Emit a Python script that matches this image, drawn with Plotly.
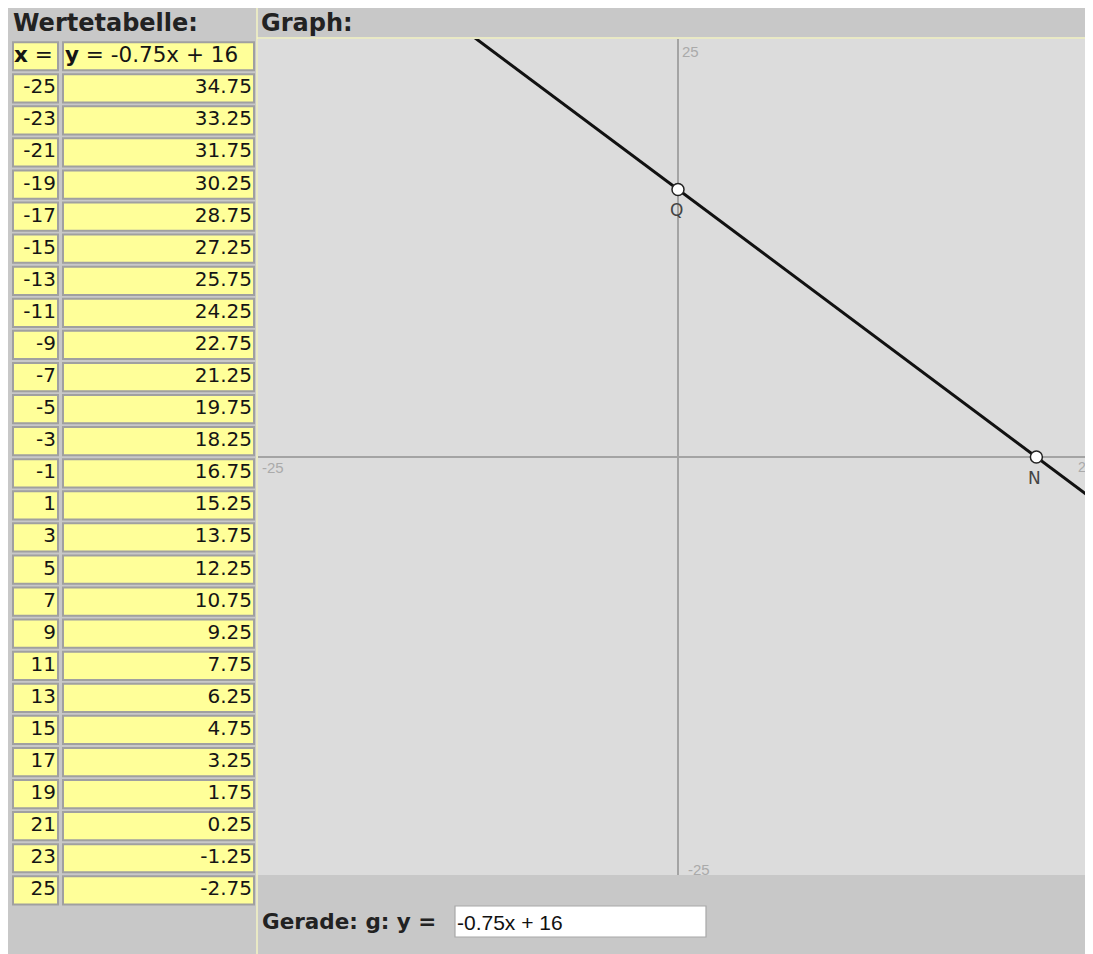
import plotly.graph_objects as go

# ---------------- data ----------------
x_values = [-25, -23, -21, -19, -17, -15, -13, -11, -9, -7, -5, -3, -1,
            1, 3, 5, 7, 9, 11, 13, 15, 17, 19, 21, 23, 25]
y_values = [34.75, 33.25, 31.75, 30.25, 28.75, 27.25, 25.75, 24.25, 22.75,
            21.25, 19.75, 18.25, 16.75, 15.25, 13.75, 12.25, 10.75, 9.25,
            7.75, 6.25, 4.75, 3.25, 1.75, 0.25, -1.25, -2.75]
x_header = "<b>x</b> ="
y_header = "<b>y</b> = -0.75x + 16"
line_x = [-25, 25]
line_y = [34.75, -2.75]
point_names = ["Q", "N"]
point_x = [0, 21.333]
point_y = [16, 0]
axis_min, axis_max = -25, 25
equation_text = "-0.75x + 16"
title_table = "Wertetabelle:"
title_graph = "Graph:"
label_line = "<b>Gerade: g: y =</b>"

# ---------------- page geometry (pixels in the 1093x954 window) ----------------
OFF = 8          # the page body margin places the figure at (8, 8)
W, H = 1093, 954
FW, FH = W - OFF, H - OFF


def fx(p):
    return (p - OFF) / FW


def fy(p):
    return 1 - (p - OFF) / FH


# graph area
GX0, GX1, GY0, GY1 = 258, 1093, 39, 875
PX_PER_UNIT_X = 16.8
x_right = axis_min + (GX1 - GX0) / PX_PER_UNIT_X

# table rows
ROW0_CENTER = 56.25
ROW_PITCH = 32.08
rows_all = list(range(len(x_values) + 1))
rows_data = rows_all[1:]
i_top = (OFF - ROW0_CENTER) / ROW_PITCH
i_bot = (H - ROW0_CENTER) / ROW_PITCH

YELLOW = "#ffff99"
CELL_LINE = "#a0a0a0"
TXT = "#151515"
FONT = "DejaVu Sans"

fig = go.Figure()

# ---- graph ----
fig.add_trace(go.Scatter(x=line_x, y=line_y, mode="lines",
                         line=dict(color="#111111", width=3),
                         xaxis="x", yaxis="y", hoverinfo="skip"))
fig.add_trace(go.Scatter(x=point_x, y=point_y, mode="markers",
                         marker=dict(size=12, color="white",
                                     line=dict(color="#222222", width=1.5)),
                         xaxis="x", yaxis="y", hoverinfo="skip", cliponaxis=False))

# ---- table ----
fig.add_trace(go.Bar(y=rows_all, x=[45] * len(rows_all), base=13, orientation="h",
                     width=0.88, marker=dict(color=YELLOW, line=dict(color=CELL_LINE, width=2)),
                     xaxis="x2", yaxis="y2", hoverinfo="skip"))
fig.add_trace(go.Bar(y=rows_all, x=[191] * len(rows_all), base=63, orientation="h",
                     width=0.88, marker=dict(color=YELLOW, line=dict(color=CELL_LINE, width=2)),
                     xaxis="x2", yaxis="y2", hoverinfo="skip"))
fig.add_trace(go.Scatter(x=[14, 65], y=[0, 0], text=[x_header, y_header], mode="text",
                         textposition="middle right",
                         textfont=dict(family=FONT, size=21.5, color=TXT),
                         xaxis="x2", yaxis="y2", hoverinfo="skip"))
fig.add_trace(go.Scatter(x=[56] * len(x_values), y=rows_data, text=[str(v) for v in x_values],
                         mode="text", textposition="middle left",
                         textfont=dict(family=FONT, size=20, color=TXT),
                         xaxis="x2", yaxis="y2", hoverinfo="skip"))
fig.add_trace(go.Scatter(x=[252] * len(y_values), y=rows_data,
                         text=[f"{v:.2f}" for v in y_values],
                         mode="text", textposition="middle left",
                         textfont=dict(family=FONT, size=20, color=TXT),
                         xaxis="x2", yaxis="y2", hoverinfo="skip"))

shapes = [
    dict(type="rect", xref="paper", yref="paper", x0=0, x1=1, y0=0, y1=1,
         fillcolor="#c8c8c8", line=dict(width=0), layer="below"),
    dict(type="rect", xref="paper", yref="paper", x0=fx(GX0), x1=1, y0=fy(GY1), y1=fy(GY0),
         fillcolor="#dcdcdc", line=dict(width=0), layer="below"),
    dict(type="line", xref="paper", yref="paper", x0=fx(257), x1=fx(257), y0=0, y1=1,
         line=dict(color="#f4f4c4", width=1.5), layer="below"),
    dict(type="line", xref="paper", yref="paper", x0=fx(257), x1=1, y0=fy(38), y1=fy(38),
         line=dict(color="#f4f4c4", width=1.5), layer="below"),
    dict(type="rect", xref="paper", yref="paper", x0=fx(455), x1=fx(706), y0=fy(937), y1=fy(906),
         fillcolor="white", line=dict(color="#a8a8a8", width=1.2), layer="below"),
]

tick_font = dict(family="Liberation Sans", size=15, color="#aaaaaa")
annotations = [
    dict(text=f"<b>{title_table}</b>", x=fx(11), y=fy(23), xanchor="left", yanchor="middle",
         font=dict(family=FONT, size=24, color="#222222")),
    dict(text=f"<b>{title_graph}</b>", x=fx(259), y=fy(23), xanchor="left", yanchor="middle",
         font=dict(family=FONT, size=24, color="#222222")),
    dict(text=label_line, x=fx(260), y=fy(921), xanchor="left", yanchor="middle",
         font=dict(family=FONT, size=21.5, color="#222222")),
    dict(text=equation_text, x=fx(455), y=fy(922), xanchor="left", yanchor="middle",
         font=dict(family="Liberation Sans", size=21, color="#111111")),
    # axis end labels
    dict(text=str(axis_max), x=fx(680), y=fy(52), xanchor="left", yanchor="middle", font=tick_font),
    dict(text=str(axis_min), x=fx(260), y=fy(467), xanchor="left", yanchor="middle", font=tick_font),
    dict(text=str(axis_max), x=fx(1076), y=fy(467), xanchor="left", yanchor="middle",
         font=dict(family="Liberation Sans", size=14, color="#aaaaaa")),
    dict(text=str(axis_min), x=fx(686), y=fy(869), xanchor="left", yanchor="middle", font=tick_font),
]
for name, px_, py_ in zip(point_names, point_x, point_y):
    annotations.append(dict(text=name, x=px_, y=py_, xref="x", yref="y", yshift=-21, xshift=-2,
                            xanchor="center", yanchor="middle",
                            font=dict(family=FONT, size=17, color="#444444")))
for a in annotations:
    a.setdefault("xref", "paper")
    a.setdefault("yref", "paper")
    a["showarrow"] = False

fig.update_layout(
    width=FW, height=FH, margin=dict(l=0, r=0, t=0, b=0, pad=0),
    paper_bgcolor="white", plot_bgcolor="rgba(0,0,0,0)",
    showlegend=False, hovermode=False, barmode="overlay",
    shapes=shapes, annotations=annotations,
    xaxis=dict(domain=[fx(GX0), 1], range=[axis_min, x_right], showgrid=False,
               zeroline=True, zerolinecolor="#a4a4a4", zerolinewidth=1.5,
               showticklabels=False, ticks="", showline=False, fixedrange=True),
    yaxis=dict(domain=[fy(GY1), fy(GY0)], range=[axis_min, axis_max], showgrid=False,
               zeroline=True, zerolinecolor="#a4a4a4", zerolinewidth=1.5,
               showticklabels=False, ticks="", showline=False, fixedrange=True),
    xaxis2=dict(domain=[0, fx(258)], range=[OFF, 258], visible=False, fixedrange=True),
    yaxis2=dict(domain=[0, 1], range=[i_bot, i_top], visible=False, fixedrange=True,
                anchor="x2"),
)
fig.update_layout(xaxis2_anchor="y2")

fig.write_html("out.html", config={"displayModeBar": False})
